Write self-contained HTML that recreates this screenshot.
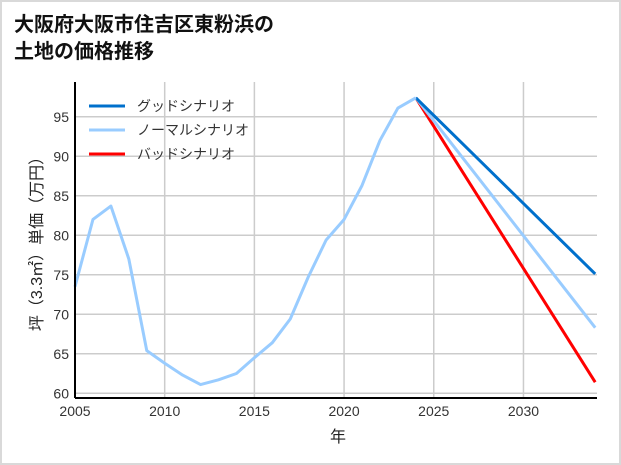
<!DOCTYPE html>
<html><head><meta charset="utf-8"><style>
body{margin:0;background:#fff;}
svg{display:block;font-family:"Liberation Sans","Noto Sans CJK JP",sans-serif;}
</style></head><body>
<svg id="c" width="621" height="465">
<rect x="1" y="1" width="619" height="463" fill="#fff" stroke="#d9d9d9" stroke-width="2"/>
<text x="14" y="31" font-size="20" font-weight="bold" fill="#111">大阪府大阪市住吉区東粉浜の</text>
<text x="14" y="58" font-size="20" font-weight="bold" fill="#111">土地の価格推移</text>
<g id="grid"></g><g id="series"></g><g id="axes"></g>
<text x="338" y="442" font-size="16" text-anchor="middle" fill="#222">年</text>
<text transform="translate(42,240) rotate(-90)" font-size="16" text-anchor="middle" fill="#222">坪（3.3㎡）単価（万円）</text>
<g id="legend"></g>
</svg>
<script>
const years=[2005,2006,2007,2008,2009,2010,2011,2012,2013,2014,2015,2016,2017,2018,2019,2020,2021,2022,2023,2024];
const normalHist=[73.5,82,83.7,77,65.4,63.8,62.3,61.1,61.7,62.5,64.5,66.4,69.4,74.7,79.4,82,86.3,92,96.1,97.4];
const projYears=[2024,2034];
const goodProj=[97.4,75.1];
const normalProj=[97.4,68.3];
const badProj=[97.4,61.4];
const xTicks=[2005,2010,2015,2020,2025,2030];
const yTicks=[60,65,70,75,80,85,90,95];
const NS="http://www.w3.org/2000/svg";
const L=75,R=597,T=82,B=398;
const x=v=>L+(v-2005)/(2034.1-2005)*(R-L);
const y=v=>B-(v-59.4)/(99.4-59.4)*(B-T);
function mk(t,a,p){const e=document.createElementNS(NS,t);for(const k in a)e.setAttribute(k,a[k]);p.appendChild(e);return e;}
const g=document.getElementById('grid'),ax=document.getElementById('axes'),s=document.getElementById('series'),lg=document.getElementById('legend');
xTicks.forEach(v=>{
 const l=mk('line',{x1:x(v),x2:x(v),y1:T,y2:B,stroke:'#cccccc','stroke-width':1.5},g);
 
 
 const t=mk('text',{x:x(v),y:B+18,'font-size':14,'text-anchor':'middle',fill:'#333'},ax);t.textContent=v;
 
 
});
yTicks.forEach(v=>{
 const l=mk('line',{x1:L,x2:R,y1:y(v),y2:y(v),stroke:'#cccccc','stroke-width':1.5},g);
 
 
 const t=mk('text',{x:L-6,y:y(v)+5,'font-size':14,'text-anchor':'end',fill:'#333'},ax);t.textContent=v;
 
 
});
const ya=mk('line',{x1:L,x2:L,y1:T,y2:B,stroke:'#000','stroke-width':2},ax);


const xa=mk('line',{x1:L,x2:R,y1:B,y2:B,stroke:'#000','stroke-width':2},ax);


function line(xs,ys,c,name){
 const p=mk('polyline',{points:xs.map((v,i)=>x(v)+','+y(ys[i])).join(' '),fill:'none',stroke:c,'stroke-width':3,'stroke-linejoin':'round'},s);
 
 
}
line(projYears,badProj,'#ff0000','bad-scenario-line');
line(projYears,normalProj,'#99ccff','normal-scenario-line');
line(projYears,goodProj,'#0070cc','good-scenario-line');
line(years,normalHist,'#99ccff','historical-line');
[['グッドシナリオ','#0070cc'],['ノーマルシナリオ','#99ccff'],['バッドシナリオ','#ff0000']].forEach((d,i)=>{
 const yy=106+i*24;
 const l=mk('line',{x1:89,x2:125,y1:yy,y2:yy,stroke:d[1],'stroke-width':3},lg);
 
 
 const t=mk('text',{x:137,y:yy+5,'font-size':14,fill:'#333'},lg);t.textContent=d[0];
 
 
});
</script>
</body></html>
